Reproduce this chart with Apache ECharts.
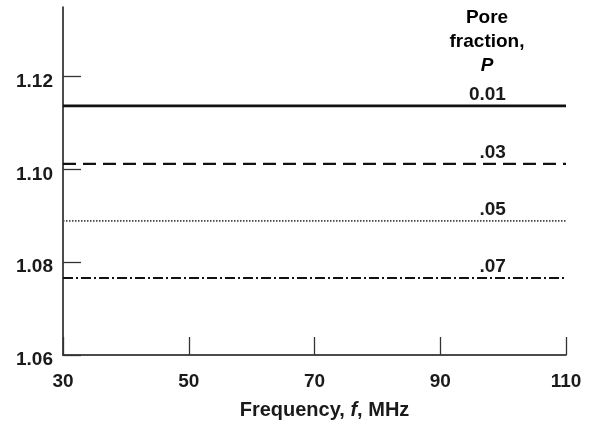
<!DOCTYPE html>
<html>
<head>
<meta charset="utf-8">
<script src="https://cdn.jsdelivr.net/npm/echarts@6/dist/echarts.min.js"></script>
<style>html,body{margin:0;padding:0;background:#fff}#c{width:595px;height:422px}</style>
</head>
<body>
<div id="c"></div>
<script>
var frequencies = [30, 110];
var poreFractions = ['0.01', '.03', '.05', '.07'];
var ratio001 = [1.1137, 1.1137];
var ratio003 = [1.1012, 1.1012];
var ratio005 = [1.0889, 1.0889];
var ratio007 = [1.0766, 1.0766];
var xTicks = [30, 50, 70, 90, 110];
var yTicks = [1.06, 1.08, 1.10, 1.12];
var labelX = 100.6;

var FONT = '"Liberation Sans", Arial, sans-serif';
var INK = '#1a1a1a';
var allValues = [ratio001, ratio003, ratio005, ratio007];
var styles = [
  {type: 'solid', width: 2.6, color: '#111'},
  {type: [13, 7], width: 2.2, color: '#111'},
  {type: [1.5, 1.5], width: 1.6, color: '#444'},
  {type: [10, 3, 2, 3], width: 2, color: '#111'}
];

var series = allValues.map(function (vals, i) {
  return {
    type: 'line',
    data: frequencies.map(function (f, j) { return [f, vals[j]]; }),
    symbol: 'none',
    lineStyle: styles[i],
    silent: true,
    animation: false
  };
});
series.push({
  type: 'scatter',
  silent: true,
  animation: false,
  symbol: 'circle',
  symbolSize: 2,
  itemStyle: {color: 'rgba(0,0,0,0)', opacity: 1},
  data: allValues.map(function (vals, i) { return {value: [labelX, vals[0]], name: poreFractions[i]}; }),
  label: {
    show: true,
    opacity: 1,
    formatter: function (p) { return p.name; },
    position: 'left',
    distance: 0,
    align: 'right',
    verticalAlign: 'bottom',
    offset: [0, -2],
    fontFamily: FONT,
    fontWeight: 'bold',
    fontSize: 19,
    color: INK
  }
});

var chart = echarts.init(document.getElementById('c'), null, {renderer: 'canvas'});
chart.setOption({
  animation: false,
  backgroundColor: '#fff',
  grid: {left: 63, right: 29, top: 7, bottom: 67, outerBoundsMode: 'none', containLabel: false},
  xAxis: {
    type: 'value',
    min: 30, max: 110,
    splitLine: {show: false},
    axisLine: {lineStyle: {color: '#111', width: 1.5}},
    axisTick: {inside: true, length: 18, customValues: xTicks, lineStyle: {color: '#333', width: 1.3}},
    axisLabel: {customValues: xTicks, margin: 17, fontFamily: FONT, fontWeight: 'bold', fontSize: 19, color: INK},
    name: '{b|Frequency, }{i|f}{b|, MHz}',
    nameLocation: 'middle',
    nameGap: 45,
    nameTextStyle: {
      padding: [0, 0, 0, 20],
      rich: {
        b: {fontFamily: FONT, fontWeight: 'bold', fontSize: 20, color: INK},
        i: {fontFamily: FONT, fontWeight: 'bold', fontStyle: 'italic', fontSize: 20, color: INK}
      }
    }
  },
  yAxis: {
    type: 'value',
    min: 1.06, max: 1.135,
    splitLine: {show: false},
    axisLine: {show: true, lineStyle: {color: '#111', width: 1.5}},
    axisTick: {show: true, inside: true, length: 18, customValues: yTicks, lineStyle: {color: '#333', width: 1.3}},
    axisLabel: {
      customValues: yTicks,
      margin: 10,
      verticalAlign: 'top',
      lineHeight: 10,
      fontFamily: FONT, fontWeight: 'bold', fontSize: 19, color: INK,
      formatter: function (v) { return v.toFixed(2); }
    }
  },
  graphic: [{
    type: 'text',
    x: 487,
    y: 6,
    style: {
      text: '{b|Pore}\n{b|fraction,}\n{i|P}',
      align: 'center',
      rich: {
        b: {fontFamily: FONT, fontWeight: 'bold', fontSize: 19, color: INK, lineHeight: 24, align: 'center'},
        i: {fontFamily: FONT, fontWeight: 'bold', fontStyle: 'italic', fontSize: 19, color: INK, lineHeight: 24, align: 'center'}
      }
    }
  }],
  series: series
});
</script>
</body>
</html>
